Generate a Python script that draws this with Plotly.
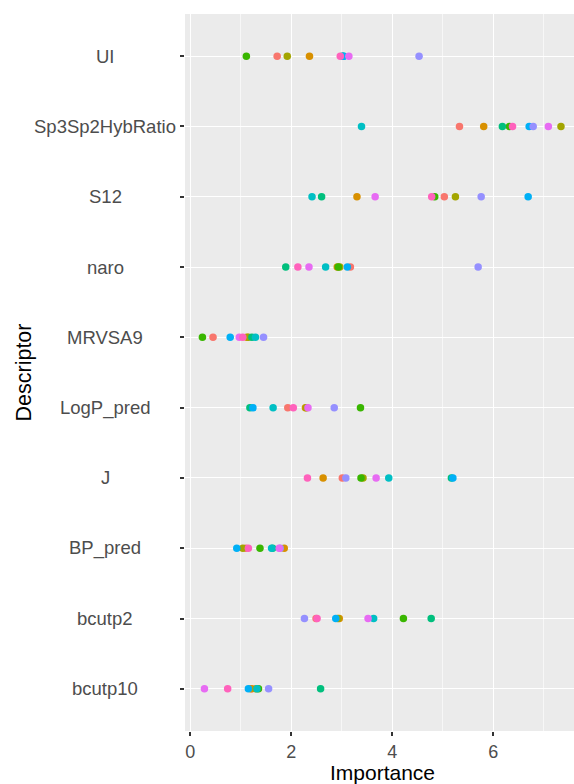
import plotly.graph_objects as go

# Descriptors, listed from the top row down
descriptors = ["UI", "Sp3Sp2HybRatio", "S12", "naro", "MRVSA9",
               "LogP_pred", "J", "BP_pred", "bcutp2", "bcutp10"]

# Importance of each descriptor for each of the ten runs (same order as descriptors)
run_01 = [1.72, 5.33, 5.03, 3.17, 0.45, 1.93, 3.01, 1.10, 2.49, 1.22]
run_02 = [2.36, 5.81, 3.30, 2.91, 1.12, 2.28, 2.63, 1.86, 2.95, 1.20]
run_03 = [1.92, 7.34, 5.25, 2.96, 1.15, 2.30, 3.42, 1.04, 2.92, 1.30]
run_04 = [1.11, 6.32, 4.84, 2.93, 0.24, 3.37, 3.38, 1.38, 4.22, 1.35]
run_05 = [3.01, 6.18, 2.60, 1.89, 1.22, 1.18, 5.17, 1.63, 4.77, 2.58]
run_06 = [3.04, 3.39, 2.41, 2.68, 1.29, 1.64, 3.93, 1.61, 3.63, 1.32]
run_07 = [3.03, 6.71, 6.69, 3.11, 0.79, 1.24, 5.20, 0.92, 2.88, 1.15]
run_08 = [4.53, 6.79, 5.76, 5.70, 1.45, 2.85, 3.08, 1.78, 2.26, 1.55]
run_09 = [3.14, 7.09, 3.66, 2.35, 0.97, 2.33, 3.68, 1.76, 3.52, 0.28]
run_10 = [2.97, 6.38, 4.78, 2.13, 1.04, 2.04, 2.32, 1.15, 2.51, 0.74]

runs = [run_01, run_02, run_03, run_04, run_05,
        run_06, run_07, run_08, run_09, run_10]
run_names = [str(i) for i in range(1, 11)]

x_ticks = [0, 2, 4, 6]

# ggplot2 default hue palette for ten levels
hue10 = ["#F8766D", "#D89000", "#A3A500", "#39B600", "#00BF7D",
         "#00BFC4", "#00B0F6", "#9590FF", "#E76BF3", "#FF62BC"]

fig = go.Figure()
for name, vals, col in zip(run_names, runs, hue10):
    fig.add_trace(go.Scatter(
        x=vals, y=descriptors, mode="markers", name=name,
        marker=dict(color=col, size=7.5, line=dict(width=0)),
        showlegend=False,
    ))

W, H = 574, 784
L, R, T, B = 185, 0, 14, 53
font_family = "Liberation Sans, Arial, sans-serif"

fig.update_layout(
    width=W, height=H,
    margin=dict(l=L, r=R, t=T, b=B, pad=0),
    paper_bgcolor="white",
    plot_bgcolor="#EBEBEB",
    font=dict(family=font_family, color="#4D4D4D"),
    xaxis=dict(
        range=[-0.105, 7.598],
        tickvals=x_ticks,
        ticktext=[str(v) for v in x_ticks],
        showgrid=True, gridcolor="white", gridwidth=1.3,
        minor=dict(dtick=1, tick0=1, showgrid=True, gridcolor="#F7F7F7", gridwidth=0.7),
        zeroline=False, showline=False,
        ticks="outside", ticklen=4, tickwidth=1.5, tickcolor="#333333",
        tickfont=dict(size=18, color="#4D4D4D", family=font_family),
    ),
    yaxis=dict(
        type="category",
        categoryorder="array",
        categoryarray=descriptors[::-1],
        range=[-0.6, 9.6],
        showgrid=True, gridcolor="white", gridwidth=1.3,
        zeroline=False, showline=False,
        ticks="outside", ticklen=4, tickwidth=1.5, tickcolor="#333333",
        showticklabels=False,
    ),
)

# Centred descriptor labels on the left of the panel
for d in descriptors:
    fig.add_annotation(
        x=(105 - L) / (W - L - R), xref="paper", y=d, yref="y",
        text=d, showarrow=False, xanchor="center", yanchor="middle",
        font=dict(size=18.5, color="#4D4D4D", family=font_family),
    )

# Axis titles
fig.add_annotation(
    x=(382 - L) / (W - L - R), xref="paper", y=-(772 - (H - B)) / (H - T - B), yref="paper",
    text="Importance", showarrow=False, xanchor="center", yanchor="middle",
    font=dict(size=21, color="black", family=font_family),
)
fig.add_annotation(
    x=(23 - L) / (W - L - R), xref="paper", y=0.5, yref="paper",
    text="Descriptor", showarrow=False, xanchor="center", yanchor="middle",
    textangle=-90,
    font=dict(size=21.5, color="black", family=font_family),
)

fig.write_html("out.html")
